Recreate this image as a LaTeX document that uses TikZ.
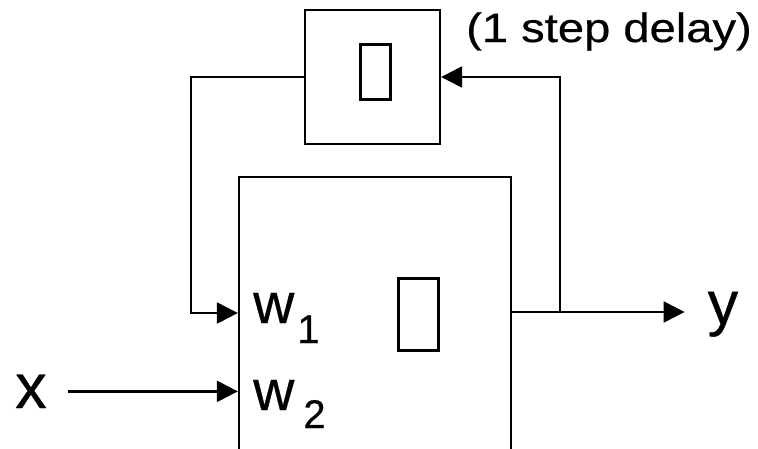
\documentclass[tikz,border=0pt]{standalone}
\usepackage{fontspec}
\setmainfont{Liberation Sans}[FakeBold=0.5]
\newfontfamily\delayfont[FakeStretch=1.15,FakeBold=0.5]{Liberation Sans}
\usetikzlibrary{arrows.meta,positioning}
\tikzset{box/.style={draw,line width=2.3pt,inner sep=0pt},
  glyph/.style={draw,line width=3pt,inner sep=0pt},
  label/.style={inner sep=0pt,anchor=base west},
  arrow/.style={-{Triangle[length=21pt,width=21pt]},line width=2.3pt}}

\begin{document}
\begin{tikzpicture}[x=1pt,y=-1pt]
\clip (0,0) rectangle (758,448);
\node[box,minimum width=135pt,minimum height=134pt] (delay) at (372.5,77) {};
\node[glyph,minimum width=30pt,minimum height=55pt] (delayglyph) at (375,71.5) {};
\node[box,minimum width=272pt,minimum height=275pt] (neuron) at (375,314.5) {};
\node[glyph,minimum width=40pt,minimum height=72pt] (neuronglyph) at (418,314) {};
\node[label] (delaytext) at (466,42) {\fontsize{41}{41}\delayfont (1 step delay)};
\node[label] (w1) at (253,323) {\fontsize{57}{57}\selectfont w\kern3pt\raisebox{-20pt}{\fontsize{40}{40}\selectfont 1}};
\node[label] (w2) at (253,410) {\fontsize{57}{57}\selectfont w\kern9pt\raisebox{-18pt}{\fontsize{40}{40}\selectfont 2}};
\node[inner xsep=21pt,inner ysep=0pt,anchor=base] (xin) at (31,408) {\fontsize{63}{63}\selectfont x};
\node[inner xsep=23pt,inner ysep=0pt,anchor=base] (yout) at (723,324) {\fontsize{61}{61}\selectfont y};
\coordinate (branch) at (560,312);
\coordinate (fbcorner) at (191,313);
\draw[arrow] (xin.east) -- (xin.east -| neuron.west);
\draw[arrow] (neuron.east |- branch) -- (yout.west |- branch);
\draw[arrow] (branch) |- (delay.east);
\draw[arrow] (delay.west) -| (fbcorner) -- (fbcorner -| neuron.west);
\end{tikzpicture}
\end{document}
